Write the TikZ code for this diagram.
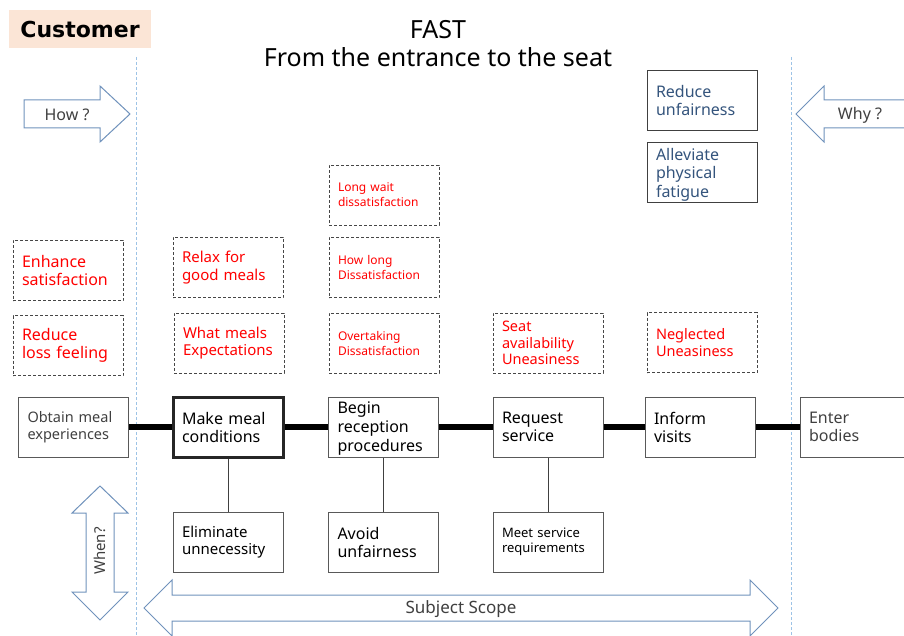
\documentclass[tikz,border=0pt]{standalone}
\usepackage{fontspec}
\setmainfont{Noto Sans}
\newfontfamily\headfont{DejaVu Sans}
\definecolor{peach}{RGB}{251,229,214}
\definecolor{sepblue}{RGB}{157,195,230}
\definecolor{arrowblue}{RGB}{112,146,188}
\definecolor{boxgray}{RGB}{89,89,89}
\definecolor{needgray}{RGB}{70,70,70}
\definecolor{textgray}{RGB}{64,64,64}
\definecolor{goalblue}{RGB}{52,84,124}
\begin{document}
\begin{tikzpicture}[x=1pt,y=-1pt,
	box/.style={draw=boxgray,line width=1pt,minimum width=110,minimum height=60,inner xsep=9pt,inner ysep=0pt,text width=92pt,align=left},
	need/.style={box,draw=needgray,line width=0.9pt,dash pattern=on 3pt off 2pt,text=red},
	big/.style={font=\fontsize{16}{18}\selectfont},
	mid/.style={font=\fontsize{15}{17.5}\selectfont},
	small/.style={font=\fontsize{14.5}{16.5}\selectfont},
	tiny/.style={font=\fontsize{12}{15}\selectfont},
	spine/.style={line width=6pt,black},
	stem/.style={line width=0.8pt,textgray},
	sep/.style={sepblue,line width=0.9pt,dash pattern=on 3pt off 2pt},
	blockarrow/.style={draw=arrowblue,line width=1pt,fill=white},
	arrowtext/.style={text=textgray,font=\fontsize{16}{18}\selectfont}]
\useasboundingbox (0,0) rectangle (904,636);
%%% Header
\node[fill=peach,minimum width=142,minimum height=38,inner sep=0pt,font=\headfont\bfseries\fontsize{22}{26}\selectfont] (cust) at (80,29) {Customer};
\node[align=center,font=\fontsize{25}{28}\selectfont] (title) at (438,44) {FAST\\From the entrance to the seat};
%%% Scope separators
\coordinate (septopL) at (136,57);
\coordinate (sepbotL) at (136,636);
\coordinate (septopR) at (791,57);
\coordinate (sepbotR) at (791,636);
\draw[sep] (septopL) -- (sepbotL);
\draw[sep] (septopR) -- (sepbotR);
%%% Question arrows
\draw[blockarrow] (24,100) -- (100,100) -- (100,86) -- (130,114) -- (100,142) -- (100,128) -- (24,128) -- cycle;
\node[arrowtext] (how) at (67,115) {How ?};
\draw[blockarrow] (796,114) -- (824,86) -- (824,100) -- (910,100) -- (910,128) -- (824,128) -- (824,142) -- cycle;
\node[arrowtext] (why) at (860,115) {Why ?};
\draw[blockarrow] (100,486) -- (128,513) -- (114,513) -- (114,592) -- (128,592) -- (100,620) -- (72,592) -- (86,592) -- (86,513) -- (72,513) -- cycle;
\node[arrowtext,font=\fontsize{15}{18}\selectfont,rotate=90] (when) at (100,551) {When?};
\draw[blockarrow] (144,608) -- (172,580) -- (172,595) -- (750,595) -- (750,580) -- (778,608) -- (750,636) -- (750,621) -- (172,621) -- (172,636) -- cycle;
\node[arrowtext,font=\fontsize{17}{18}\selectfont] (scope) at (461,609) {Subject Scope};
%%% Goals (why)
\node[box,draw=textgray,text=goalblue,big] (unfair) at (702,100.5) {Reduce\\unfairness};
\node[box,draw=textgray,text=goalblue,font=\fontsize{16}{18.5}\selectfont] (fatigue) at (702,173) {\vphantom{A}\\[-15pt]Alleviate\\physical\\fatigue};
%%% Needs
\foreach \n/\s/\x/\y/\t in {
	win/big/68/270.5/{Enhance\\satisfaction},
	loss/big/68/345.5/{Reduce\\loss feeling},
	relax/mid/228/267.5/{Relax for\\good meals},
	expect/mid/229/343/{What meals\\Expectations},
	wait/tiny/384/195/{Long wait\\dissatisfaction},
	howlong/tiny/384/267.5/{How long\\Dissatisfaction},
	overtake/tiny/384/343/{Overtaking\\Dissatisfaction},
	seat/small/548/343/{Seat\\availability\\Uneasiness},
	neglect/small/702/342.5/{Neglected\\Uneasiness}}
{
	\node[need,\s] (\n) at (\x,\y) {\t};
}
%%% Functions
\node[box,text=textgray,small] (obtain) at (73.5,427) {Obtain meal\\experiences};
\node[box,draw=black!85,line width=3pt,big] (make) at (228,427) {Make meal\\conditions};
\node[box,font=\fontsize{16}{19}\selectfont] (begin) at (383.5,427) {\vphantom{A}\\[-15pt]Begin\\reception\\procedures};
\node[box,big] (request) at (548,427) {Request\\service};
\node[box,big] (inform) at (700,427) {Inform\\visits};
\node[box,text=textgray,big] (enter) at (855,427) {Enter\\bodies};
\foreach \a/\b in {obtain/make,make/begin,begin/request,request/inform,inform/enter}
{
	\draw[spine] (\a) -- (\b);
}
%%% Sub functions
\node[box,font=\fontsize{15}{17.5}\selectfont] (elim) at (228,542) {Eliminate\\unnecessity};
\node[box,big] (avoid) at (383.5,542) {Avoid\\unfairness};
\node[box,font=\fontsize{13}{15.5}\selectfont] (meet) at (548,542) {Meet service\\requirements};
\foreach \a/\b in {make/elim,begin/avoid,request/meet}
{
	\draw[stem] (\a) -- (\b);
}
\end{tikzpicture}
\end{document}
